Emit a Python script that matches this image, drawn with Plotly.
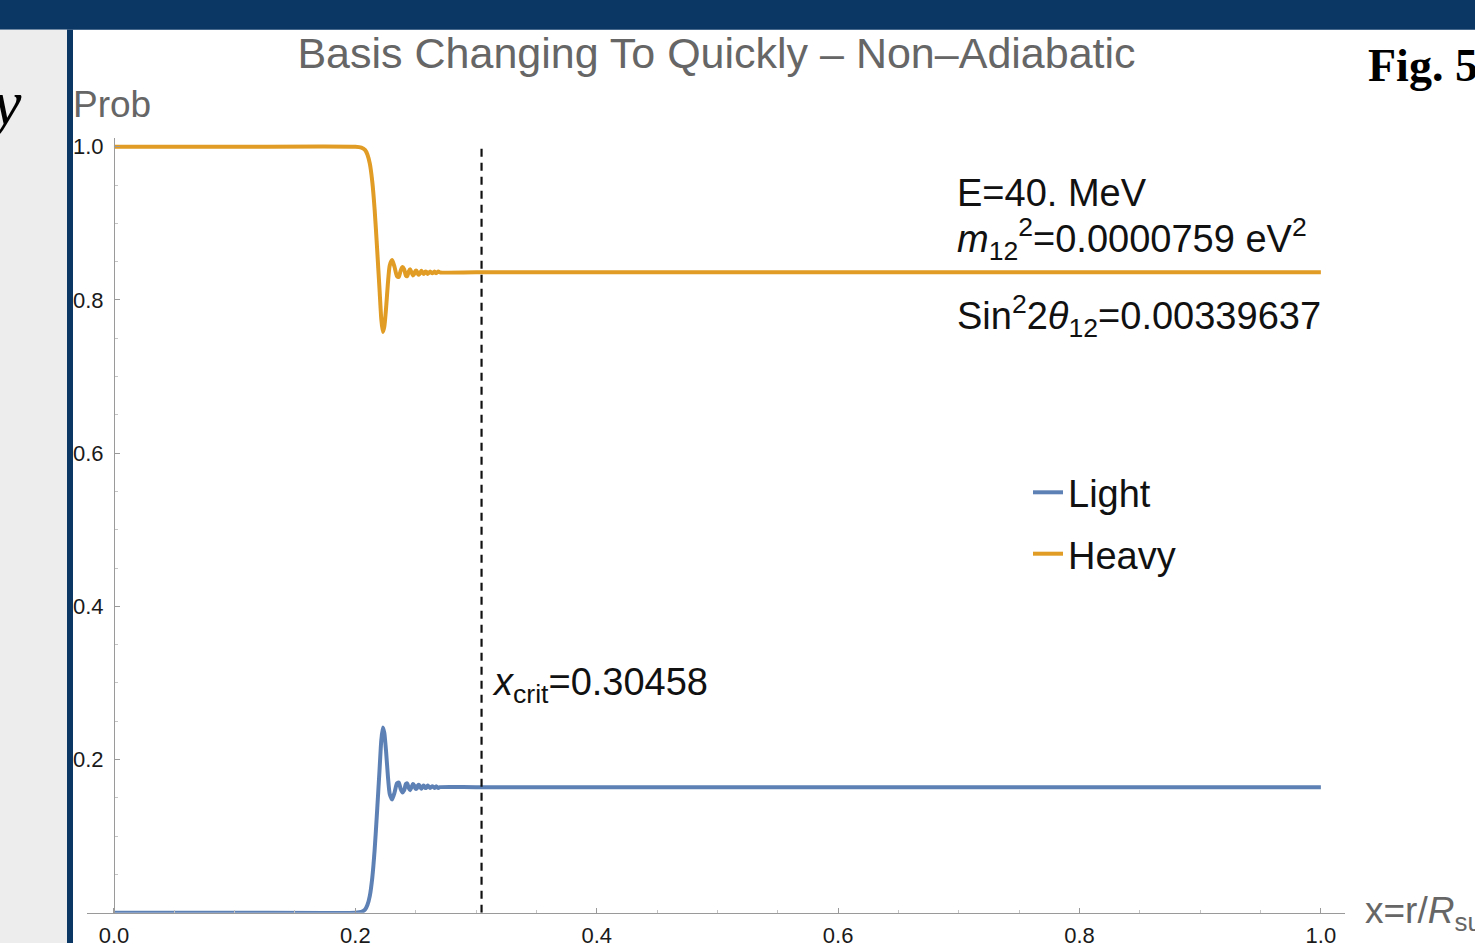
import plotly.graph_objects as go

# Radial position x = r/R_sun and the flavour probabilities along it
x_pos = [0.0, 0.1, 0.2, 0.205, 0.208, 0.21, 0.212, 0.214, 0.216, 0.218,
         0.22, 0.2215, 0.2228, 0.224, 0.2255, 0.227, 0.2285, 0.2305, 0.2325, 0.2345,
         0.236, 0.2375, 0.239, 0.2405, 0.2418, 0.243, 0.2442, 0.2454, 0.2466, 0.2477,
         0.2488, 0.2498, 0.2508, 0.2518, 0.2528, 0.2538, 0.2548, 0.2558, 0.2568, 0.2578,
         0.2588, 0.2598, 0.2608, 0.2618, 0.2628, 0.2638, 0.2648, 0.2658, 0.2668, 0.2678,
         0.2688, 0.27, 0.3, 0.5, 0.75, 1.0]

prob_light = [0.0, 0.0, 0.0, 0.001, 0.004, 0.01, 0.022, 0.045, 0.082, 0.132,
              0.185, 0.225, 0.242, 0.235, 0.21, 0.178, 0.155, 0.148, 0.157, 0.169,
              0.17, 0.162, 0.157, 0.16, 0.168, 0.169, 0.163, 0.16, 0.164, 0.168,
              0.166, 0.162, 0.162, 0.166, 0.167, 0.164, 0.162, 0.165, 0.166, 0.163,
              0.163, 0.166, 0.165, 0.163, 0.164, 0.165, 0.164, 0.163, 0.165, 0.164,
              0.163, 0.164, 0.164, 0.164, 0.164, 0.164]

prob_heavy = [1.0, 1.0, 1.0, 0.999, 0.996, 0.99, 0.978, 0.955, 0.918, 0.868,
              0.815, 0.775, 0.758, 0.765, 0.79, 0.822, 0.845, 0.852, 0.843, 0.831,
              0.83, 0.838, 0.843, 0.84, 0.832, 0.831, 0.837, 0.84, 0.836, 0.832,
              0.834, 0.838, 0.838, 0.834, 0.833, 0.836, 0.838, 0.835, 0.834, 0.837,
              0.837, 0.834, 0.835, 0.837, 0.836, 0.835, 0.836, 0.837, 0.835, 0.836,
              0.837, 0.836, 0.836, 0.836, 0.836, 0.836]

x_crit = 0.30458
crit_span = [0.0, 1.0]

x_ticks = [0.0, 0.2, 0.4, 0.6, 0.8, 1.0]
x_tick_text = ["0.0", "0.2", "0.4", "0.6", "0.8", "1.0"]
y_ticks = [0.2, 0.4, 0.6, 0.8, 1.0]
y_tick_text = ["0.2", "0.4", "0.6", "0.8", "1.0"]

W, H = 1475, 948
BLUE = "#5E81B5"
ORANGE = "#E09C24"
NAVY = "#0B3764"
AXIS = "#9a9a9a"
FONT = "Liberation Sans, Arial, sans-serif"
SERIF = "Liberation Serif, Times New Roman, serif"


def px(x):
    return x / W


def py(y):
    return 1 - y / H


fig = go.Figure()
fig.add_trace(go.Scatter(x=x_pos, y=prob_light, mode="lines", name="Light",
                         line=dict(color=BLUE, width=4, shape="spline", smoothing=0.6),
                         legendgroup="a"))
fig.add_trace(go.Scatter(x=x_pos, y=prob_heavy, mode="lines", name="Heavy",
                         line=dict(color=ORANGE, width=4, shape="spline", smoothing=0.6),
                         legendgroup="b"))
fig.add_trace(go.Scatter(x=[x_crit, x_crit], y=crit_span, mode="lines", showlegend=False,
                         line=dict(color="#111111", width=2.2, dash="8px,6px")))

tick_font = dict(family=FONT, size=22, color="#1a1a1a")

fig.update_layout(
    width=W, height=H,
    margin=dict(l=0, r=0, t=0, b=0),
    paper_bgcolor="white",
    plot_bgcolor="rgba(0,0,0,0)",
    showlegend=True,
    legend=dict(x=px(1028), y=py(462), xanchor="left", yanchor="top",
                font=dict(family=FONT, size=38, color="#111111"),
                bgcolor="rgba(0,0,0,0)", tracegroupgap=9, traceorder="grouped"),
    title=dict(text="Basis Changing To Quickly \u2013 Non\u2013Adiabatic",
               x=px(716.5), y=py(53), xanchor="center", yanchor="middle",
               font=dict(family=FONT, size=43, color="#666666")),
    xaxis=dict(domain=[px(87.4), px(1345)], range=[-0.022, 1.02],
               showgrid=False, zeroline=False, showline=True, linecolor=AXIS, linewidth=1,
               ticks="inside", ticklen=5, tickcolor=AXIS, tickvals=x_ticks,
               ticktext=x_tick_text, tickfont=tick_font, anchor="y", ticklabelstandoff=3,
               minor=dict(ticks="inside", ticklen=3, tick0=0, dtick=0.05, tickcolor="#c4c4c4")),
    yaxis=dict(domain=[1 - 917.5 / H, 1 - 135.7 / H], range=[0, 1.012],
               showgrid=False, zeroline=False, showline=True, linecolor=AXIS, linewidth=1,
               anchor="free", position=px(114),
               ticks="inside", ticklen=5, tickcolor=AXIS, tickvals=y_ticks,
               ticktext=y_tick_text, tickfont=tick_font, ticklabelstandoff=6,
               minor=dict(ticks="inside", ticklen=3, tick0=0, dtick=0.05, tickcolor="#c4c4c4")),
)

# slide frame around the plot
fig.add_shape(type="rect", xref="paper", yref="paper", x0=0, x1=1, y0=py(27), y1=1.01,
              fillcolor=NAVY, line_width=0, layer="below")
fig.add_shape(type="rect", xref="paper", yref="paper", x0=0, x1=px(67), y0=0, y1=py(27),
              fillcolor="#EDEDED", line_width=0, layer="below")
fig.add_shape(type="rect", xref="paper", yref="paper", x0=px(67), x1=px(73), y0=0, y1=py(27),
              fillcolor=NAVY, line_width=0, layer="below")


def note(text, x, y, size=38, color="#111111", family=FONT, xanchor="left"):
    fig.add_annotation(text=text, x=px(x), y=py(y), xref="paper", yref="paper",
                       xanchor=xanchor, yanchor="middle", showarrow=False,
                       font=dict(family=family, size=size, color=color))


note("Prob", 71, 102, size=37, color="#666666")
note("E=40. MeV", 955, 192)
note("<i>m</i><sub>12</sub><sup>2</sup>=0.0000759 eV<sup>2</sup>", 955, 238)
note("Sin<sup>2</sup>2<i>\u03b8</i><sub>12</sub>=0.00339637", 955, 316)
note("<i>x</i><sub>crit</sub>=0.30458", 490, 688)
note("x=r/<i>R</i><sub>sun</sub>", 1363, 918, size=37, color="#666666")
note("<b>Fig. 5</b>", 1366, 63, size=46, color="#000000", family=SERIF)
note("<i>y</i>", 24, 100, size=64, color="#000000", family=SERIF, xanchor="right")

fig.write_html("out.html")
